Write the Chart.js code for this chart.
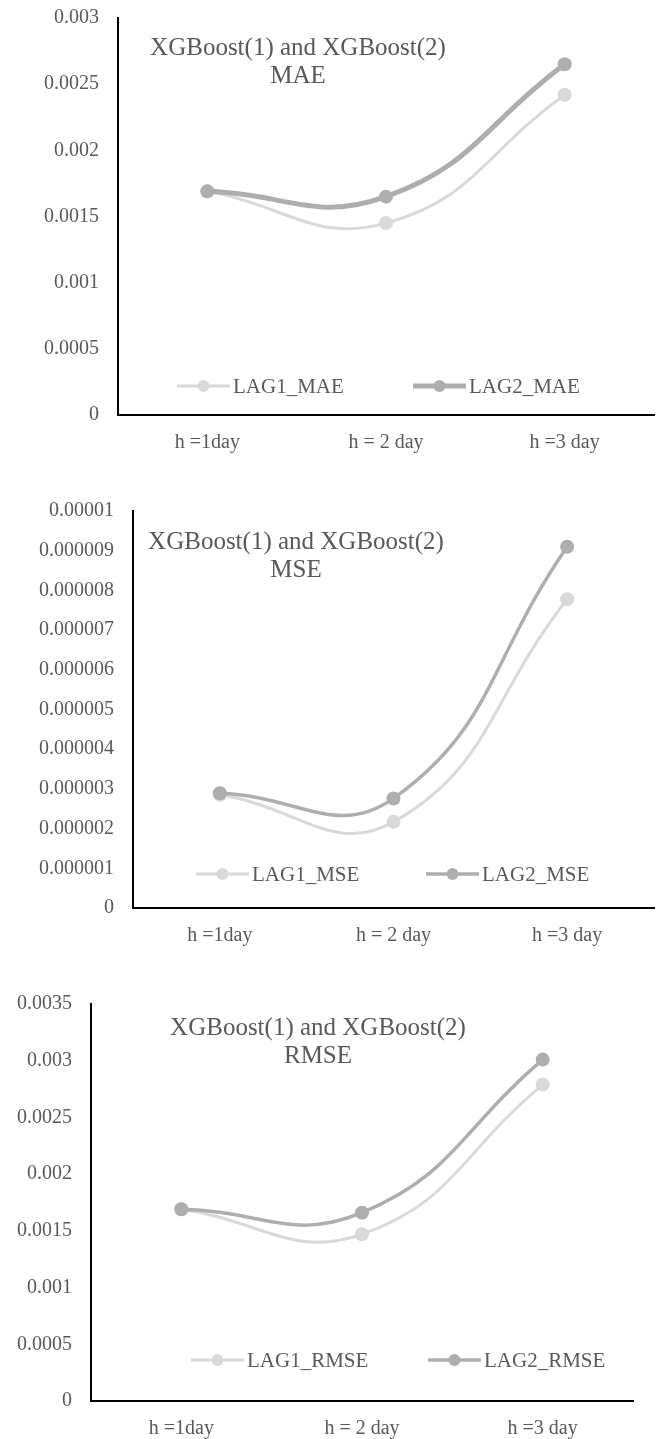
<!DOCTYPE html>
<html>
<head>
<meta charset="utf-8">
<script src="https://cdn.jsdelivr.net/npm/chart.js@4/dist/chart.umd.min.js"></script>
<style>
  body { margin: 0; background: #fff; }
  .box { position: absolute; left: 0; width: 661px; }
</style>
</head>
<body>
<div class="box" style="top:0px"><canvas id="mae" width="661" height="480"></canvas></div>
<div class="box" style="top:480px"><canvas id="mse" width="661" height="480"></canvas></div>
<div class="box" style="top:960px"><canvas id="rmse" width="661" height="479"></canvas></div>
<script>
// data
const categories = ['h =1day', 'h = 2 day', 'h =3 day'];

const lag1Mae = [0.00169, 0.00145, 0.00242];
const lag2Mae = [0.00169, 0.00165, 0.00265];

const lag1Mse = [0.00000285, 0.00000217, 0.00000778];
const lag2Mse = [0.00000289, 0.00000276, 0.0000091];

const lag1Rmse = [0.00169, 0.00147, 0.00279];
const lag2Rmse = [0.00169, 0.00166, 0.00301];

// y axis: [max, step]
const maeAxis = [0.003, 0.0005];
const mseAxis = [0.00001, 0.000001];
const rmseAxis = [0.0035, 0.0005];

const FONT = "'Liberation Serif', 'Times New Roman', serif";
const TEXT = '#595959';
const LIGHT = '#d9d9d9';
const DARK = '#aeaeae';

function fmt(v) {
    let s = Number(v).toFixed(6).replace(/0+$/, '').replace(/\.$/, '');
    return s;
}

// title + legend drawn inside the plot, like the excel chart
const overlay = {
    id: 'overlay',
    afterDraw(chart, args, o) {
        const ctx = chart.ctx;
        ctx.save();
        ctx.fillStyle = TEXT;
        ctx.font = '25px ' + FONT;
        ctx.textAlign = 'center';
        ctx.textBaseline = 'middle';
        ctx.fillText('XGBoost(1) and XGBoost(2)', o.titleX, o.titleY);
        ctx.fillText(o.metric, o.titleX, o.titleY + 28);

        chart.data.datasets.forEach((ds, i) => {
            const x = o.legendX[i];
            const y = o.legendY;
            ctx.strokeStyle = ds.borderColor;
            ctx.lineWidth = ds.borderWidth;
            ctx.beginPath();
            ctx.moveTo(x, y);
            ctx.lineTo(x + 53, y);
            ctx.stroke();
            ctx.fillStyle = ds.borderColor;
            ctx.beginPath();
            ctx.arc(x + 26.5, y, 6, 0, Math.PI * 2);
            ctx.fill();
            ctx.fillStyle = TEXT;
            ctx.font = '21px ' + FONT;
            ctx.textAlign = 'left';
            ctx.fillText(ds.label, x + 56, y + 1);
        });
        ctx.restore();
    }
};

function makeChart(id, metric, d1, d2, axis, box, extra) {
    const [left, top, right, bottom, h] = box;
    new Chart(document.getElementById(id), {
        type: 'line',
        data: {
            labels: categories,
            datasets: [
                {
                    label: 'LAG1_' + metric,
                    data: d1,
                    borderColor: LIGHT,
                    backgroundColor: LIGHT,
                    borderWidth: 3,
                    pointRadius: 7,
                    pointBorderWidth: 0,
                    tension: 0.45,
                    order: 1
                },
                {
                    label: 'LAG2_' + metric,
                    data: d2,
                    borderColor: DARK,
                    backgroundColor: DARK,
                    borderWidth: extra.lag2Width,
                    pointRadius: 7,
                    pointBorderWidth: 0,
                    tension: 0.45,
                    order: 0
                }
            ]
        },
        options: {
            responsive: false,
            animation: false,
            clip: false,
            layout: { padding: { top: top, right: 661 - right, bottom: 0, left: 0 } },
            plugins: {
                legend: { display: false },
                tooltip: { enabled: false },
                overlay: extra
            },
            scales: {
                x: {
                    offset: true,
                    grid: { display: false, drawTicks: false },
                    border: { color: '#000', width: 2 },
                    ticks: { color: TEXT, font: { family: FONT, size: 20 }, padding: 16, maxRotation: 0 },
                    afterFit: s => { s.height = h - bottom; s.paddingLeft = 0; s.paddingRight = 0; }
                },
                y: {
                    min: 0,
                    max: axis[0],
                    grid: { display: false, drawTicks: false },
                    border: { color: '#000', width: 2 },
                    ticks: {
                        stepSize: axis[1],
                        color: TEXT,
                        font: { family: FONT, size: 20 },
                        padding: 19,
                        callback: v => fmt(v)
                    },
                    afterFit: s => { s.width = left; s.paddingTop = 0; s.paddingBottom = 0; }
                }
            }
        },
        plugins: [overlay]
    });
}

makeChart('mae', 'MAE', lag1Mae, lag2Mae, maeAxis, [118, 18, 661, 415, 480],
    { metric: 'MAE', titleX: 298, titleY: 48, legendX: [177, 413], legendY: 386, lag2Width: 5 });

makeChart('mse', 'MSE', lag1Mse, lag2Mse, mseAxis, [133, 31, 661, 428, 480],
    { metric: 'MSE', titleX: 296, titleY: 62, legendX: [196, 426], legendY: 394, lag2Width: 3.5 });

makeChart('rmse', 'RMSE', lag1Rmse, lag2Rmse, rmseAxis, [91, 44, 633, 441, 479],
    { metric: 'RMSE', titleX: 318, titleY: 68, legendX: [191, 428], legendY: 400, lag2Width: 3.5 });
</script>
</body>
</html>
